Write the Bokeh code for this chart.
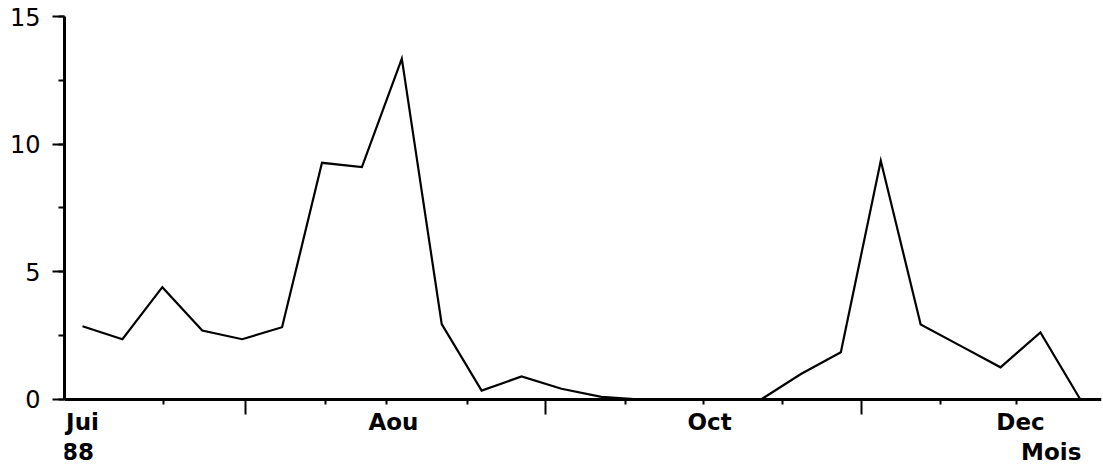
from bokeh.plotting import figure
from bokeh.models import (Range1d, FixedTicker, SingleIntervalTicker,
                          CustomJSTickFormatter)
from bokeh.core.properties import value
from bokeh.embed import file_html
from bokeh.resources import INLINE

# Weekly counts, June to December 1988 (week index 0..25)
weeks = list(range(26))
cases = [2.87, 2.36, 4.4, 2.7, 2.36, 2.83, 9.27, 9.1, 13.35, 2.95,
         0.35, 0.9, 0.42, 0.1, 0.0, 0.0, 0.0, 0.0, 1.0, 1.85,
         9.35, 2.94, 2.1, 1.26, 2.63, 0.0]

# Tick marks along the time axis (in week units)
long_ticks = [4.08, 11.60, 19.51]
short_ticks = [2.03, 6.09, 7.62, 9.64, 13.60, 15.56, 17.54, 21.49, 23.40]

# Month names under the axis (first row), year and axis title (second row)
month_text = ["Jui", "Aou", "Oct", "Dec"]
month_pos = [0.0, 7.79, 15.71, 23.50]
second_text = ["88", "Mois"]
second_pos = [-0.113, 24.27]
second_y = [-2.056, -2.056]

# The frame reaches the bottom of the canvas; the time axis sits at y = 0
p = figure(width=1103, height=465, output_backend="svg", toolbar_location=None,
           x_range=Range1d(-0.451, 25.53), y_range=Range1d(-2.585, 15),
           min_border_left=64, min_border_right=2,
           min_border_top=16, min_border_bottom=0)

p.grid.visible = False
p.outline_line_color = None
p.background_fill_color = "white"
p.border_fill_color = "white"

p.line(weeks, cases, line_width=2.2, line_color="black", line_join="miter")

# y axis: labels every 5, minor ticks every 2.5
ya = p.yaxis[0]
ya.bounds = (0, 15)
ya.ticker = SingleIntervalTicker(interval=5, num_minor_ticks=2)
ya.axis_line_width = 3
ya.axis_line_color = "black"
ya.major_tick_in = 0
ya.major_tick_out = 12
ya.major_tick_line_width = 2
ya.minor_tick_in = 0
ya.minor_tick_out = 6
ya.minor_tick_line_width = 2
ya.major_label_standoff = 12
ya.major_label_text_font = "DejaVu Sans"
ya.major_label_text_font_size = "24px"
ya.major_label_text_color = "black"

# x axis: tick marks only, pinned at y = 0
xa = p.xaxis[0]
xa.fixed_location = 0
xa.ticker = FixedTicker(ticks=long_ticks, minor_ticks=short_ticks)
xa.formatter = CustomJSTickFormatter(code="return ''")
xa.axis_line_width = 3
xa.axis_line_color = "black"
xa.major_tick_in = 0
xa.major_tick_out = 15
xa.major_tick_line_width = 2
xa.minor_tick_in = 0
xa.minor_tick_out = 5
xa.minor_tick_line_width = 2
xa.major_label_text_font_size = "0px"

text_style = dict(text_font=value("DejaVu Sans"), text_font_size="23px",
                  text_font_style="bold", text_color="black",
                  text_align="center", text_baseline="middle")

p.text(x=month_pos, y=[-0.862] * len(month_pos), text=month_text, **text_style)
p.text(x=second_pos, y=second_y, text=second_text, **text_style)

open("out.html", "w").write(file_html(p, INLINE))
